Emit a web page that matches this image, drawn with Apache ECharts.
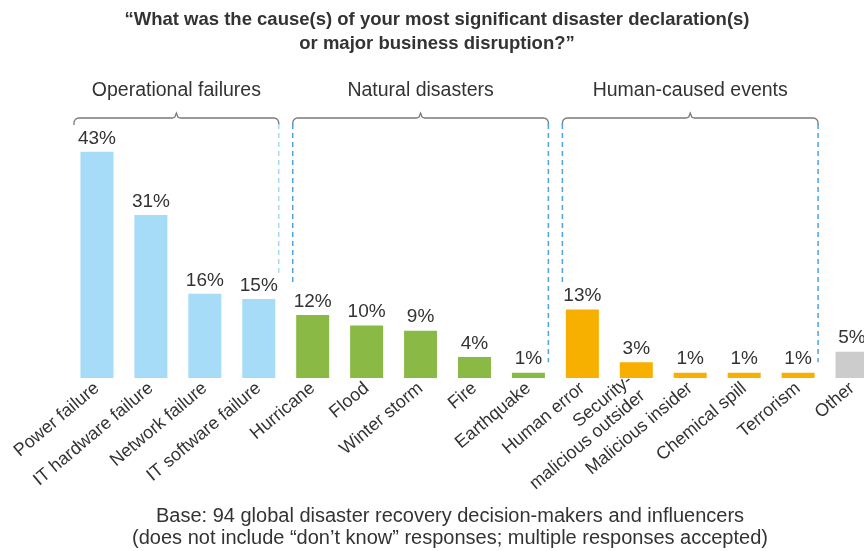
<!DOCTYPE html>
<html>
<head>
<meta charset="utf-8">
<script src="https://cdn.jsdelivr.net/npm/echarts@6/dist/echarts.min.js"></script>
<style>
html,body{margin:0;padding:0;background:#fff;overflow:hidden;}
#c{width:879px;height:551px;}
</style>
</head>
<body>
<div id="c"></div>
<script>
var categories = ['Power failure','IT hardware failure','Network failure','IT software failure',
  'Hurricane','Flood','Winter storm','Fire','Earthquake',
  'Human error','Security-\nmalicious outsider','Malicious insider','Chemical spill','Terrorism',
  'Other'];
var values = [43,31,16,15,12,10,9,4,1,13,3,1,1,1,5];
var groupOf = ['op','op','op','op','nat','nat','nat','nat','nat','hum','hum','hum','hum','hum','oth'];
var groupNames = ['Operational failures','Natural disasters','Human-caused events'];
var groupRanges = [[0,3],[4,8],[9,13]];
var colors = {op:'#a6dcf8', nat:'#8aba45', hum:'#f8b000', oth:'#cccccc'};
var titleText = '\u201cWhat was the cause(s) of your most significant disaster declaration(s)\nor major business disruption?\u201d';
var footText = 'Base: 94 global disaster recovery decision-makers and influencers\n(does not include \u201cdon\u2019t know\u201d responses; multiple responses accepted)';
// dashed separator line lower ends (value units)
var sepEnds = [20, 17.7, 3, 17.7, 3];

var FONT = 'Liberation Sans, Arial, Helvetica, sans-serif';
var chart = echarts.init(document.getElementById('c'), null, {renderer:'canvas'});
var option = {
  animation:false,
  backgroundColor:'#fff',
  title:{
    text:titleText, left:432, top:3, textAlign:'center',
    textStyle:{fontFamily:FONT, fontSize:18.5, fontWeight:'bold', color:'#333', lineHeight:24}
  },
  grid:{left:70, right:0, top:115, bottom:173, containLabel:false},
  xAxis:{
    type:'category', data:categories,
    axisLine:{show:false}, axisTick:{show:false},
    axisLabel:{interval:0, rotate:40, margin:8, fontFamily:FONT, fontSize:18, color:'#333', lineHeight:20}
  },
  yAxis:{type:'value', min:0, max:50, show:false, splitLine:{show:false}},
  series:[{
    type:'bar', barWidth:33,
    data: values.map(function(v,i){return {value:v, itemStyle:{color:colors[groupOf[i]]}};}),
    label:{show:true, position:'top', distance:4, formatter:'{c}%', fontFamily:FONT, fontSize:19, color:'#333'}
  }]
};
chart.setOption(option);

function px(ci, v){ return chart.convertToPixel({gridIndex:0}, [ci, v]); }
var half = (px(1,0)[0] - px(0,0)[0]) / 2;
var els = [];
var y0 = 118;
function arcPts(cx, cy, r, a0, a1){
  var pts = [];
  for (var k=0;k<=6;k++){ var a = a0 + (a1-a0)*k/6; pts.push([cx + r*Math.cos(a), cy + r*Math.sin(a)]); }
  return pts;
}
groupRanges.forEach(function(r, gi){
  var x1 = px(r[0],0)[0] - half + (gi===0 ? 4 : 7);
  var x2 = px(r[1],0)[0] + half - 7;
  var m = (x1+x2)/2;
  var R = 5;
  var pts = [[x1,125]];
  pts = pts.concat(arcPts(x1+R, y0+R, R, Math.PI, 1.5*Math.PI));
  pts.push([m-4, y0]);
  pts.push([m-1.5, y0-1]);
  pts.push([m, y0-5]);
  pts.push([m+1.5, y0-1]);
  pts.push([m+4, y0]);
  pts = pts.concat(arcPts(x2-R, y0+R, R, 1.5*Math.PI, 2*Math.PI));
  pts.push([x2,125]);
  els.push({type:'polyline', shape:{points:pts}, style:{fill:null, stroke:'#7a7a7a', lineWidth:1.3}});
  els.push({type:'text', x:m, y:91, style:{text:groupNames[gi], x:0, y:0, textAlign:'center', textVerticalAlign:'middle', font:'19.5px '+FONT, fill:'#333'}});
});
// dashed separators
var seps = [
  [groupRanges[0][1], 1, '#a8d8f3'],
  [groupRanges[1][0], -1, '#4ea3dc'],
  [groupRanges[1][1], 1, '#4ea3dc'],
  [groupRanges[2][0], -1, '#4ea3dc'],
  [groupRanges[2][1], 1, '#4ea3dc']
];
seps.forEach(function(s, i){
  var x = s[1] > 0 ? px(s[0],0)[0] + half - 7 : px(s[0],0)[0] - half + 7;
  var yEnd = px(0, sepEnds[i])[1];
  els.push({type:'line', shape:{x1:x, y1:124, x2:x, y2:yEnd}, style:{stroke:s[2], lineWidth:1.5, lineDash:[5,4]}});
});
els.push({type:'text', x:450, y:527, style:{text:footText, x:0, y:0, textAlign:'center', textVerticalAlign:'middle', font:'20px '+FONT, fill:'#333', lineHeight:22}});
chart.setOption({graphic:{elements:els}});
</script>
</body>
</html>
